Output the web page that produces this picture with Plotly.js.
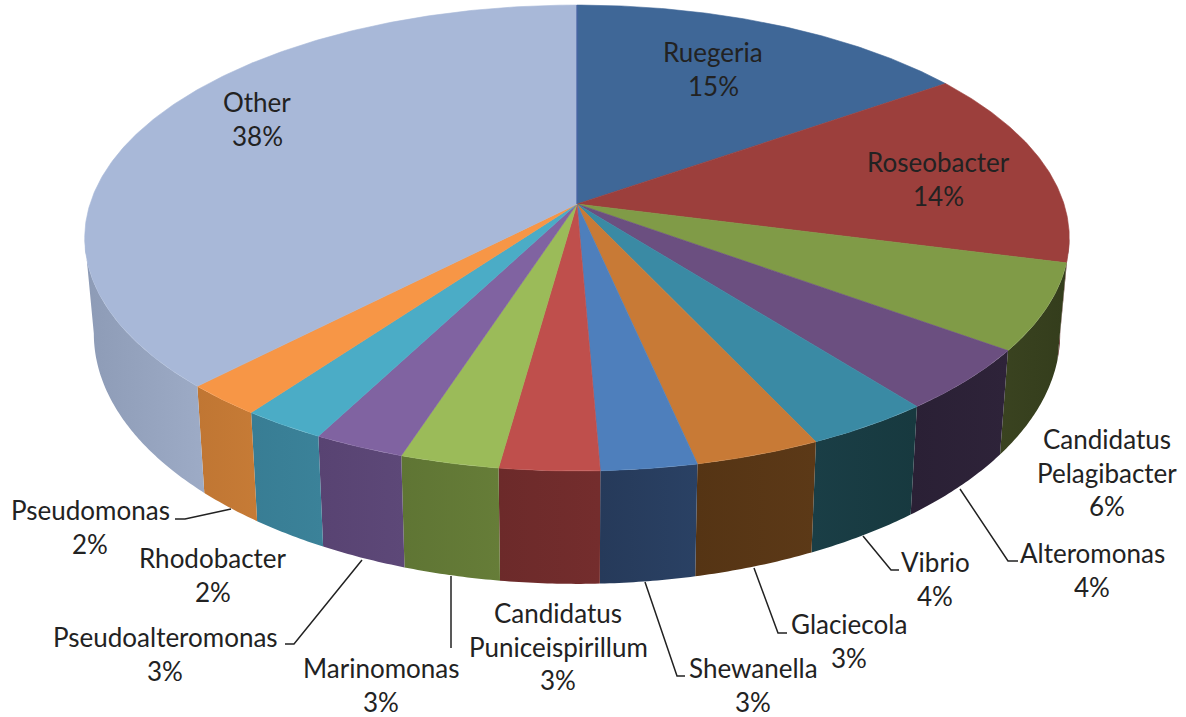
<!DOCTYPE html>
<html>
<head>
<meta charset="utf-8">
<script src="https://cdn.plot.ly/plotly-3.0.1.min.js"></script>
<style>html,body{margin:0;padding:0;background:#fff;overflow:hidden}#chart{width:1186px;height:717px}</style>
</head>
<body>
<div id="chart"></div>
<script>
// Data, clockwise from 12 o'clock. Shown percentages are the rounded labels.
const categories = ["Ruegeria","Roseobacter","Candidatus Pelagibacter","Alteromonas","Vibrio","Glaciecola","Shewanella","Candidatus Puniceispirillum","Marinomonas","Pseudoalteromonas","Rhodobacter","Pseudomonas","Other"];
const values = [15.3,13.7,6,4.4,3.6,3.6,2.75,2.85,2.83,2.62,2.4,2.25,37.7];
const shownPercent = [15,14,6,4,4,3,3,3,3,3,2,2,38];
const labelLines = [["Ruegeria"],["Roseobacter"],["Candidatus","Pelagibacter"],["Alteromonas"],["Vibrio"],["Glaciecola"],["Shewanella"],["Candidatus","Puniceispirillum"],["Marinomonas"],["Pseudoalteromonas"],["Rhodobacter"],["Pseudomonas"],["Other"]];

// Styles
const topColors = ["#3f6797","#9c3f3c","#809b47","#6b4f80","#3a8aa4","#c87a36","#4e7fbc","#bf4f4c","#9bbb59","#8063a1","#4bacc6","#f79646","#a8b8d8"];
const sideColors = [["#2a4566","#2a4566"],["#5a2020","#5a2020"],["#343d1c","#3a4320"],["#2e2339","#2a2035"],["#17393f","#1a3e46"],["#5c3917","#553414"],["#2a4164","#263a5a"],["#742d2d","#6c2a2a"],["#667d38","#5f7534"],["#5d4878","#584372"],["#3b8299","#387d94"],["#c67b36","#c07633"],["#9dabc6","#8d9bb6"]];

// Layout: label centres and leader polylines, in page pixels
const labelCentres = [[713,52],[938,162],[1107,439],[1092,553],[935,562],[849,624],[753,668],[558,613],[381,668],[165,637],[213,558],[90,510],[257,102]];
const lineStep = 33.7;
const leaders = [
 [[175,519],[185,519],[231,509]],
 [[285,644],[294,644],[362,560]],
 [[451,576],[451,648]],
 [[645,582],[677,676],[685,676]],
 [[754,568],[778,633],[787,633]],
 [[863,536],[891,570],[899,570]],
 [[960,489],[1008,561],[1018,561]]
];

// Perspective disc projection for the top and bottom faces
const cx = 577;
const k = 0.146;
const topFace = {a:487, b:228, y0:204};
const botFace = {a:478, b:245, y0:297};
function project(face, deg){
  const t = deg*Math.PI/180, u = Math.sin(t), v = Math.cos(t), w = 1+k*v;
  return [cx + face.a*u/w, face.y0 - face.b*v/w];
}
function arc(face, d0, d1){
  const n = Math.max(2, Math.ceil(Math.abs(d1-d0)/0.5)), pts = [];
  for(let i=0;i<=n;i++) pts.push(project(face, d0+(d1-d0)*i/n));
  return pts;
}

const total = values.reduce((a,b)=>a+b,0);
let acc = 0;
const spans = values.map(v=>{const s=[acc/total*360,(acc+v)/total*360]; acc+=v; return s;});

const traces = [];
// Side wall: only between the two silhouette tangents
const sideMin = 98.4, sideMax = 261.6;
spans.forEach((s,i)=>{
  const a = Math.max(s[0],sideMin), b = Math.min(s[1],sideMax);
  if(b<=a) return;
  const pts = arc(topFace,a,b).concat(arc(botFace,b,a));
  pts.push(pts[0]);
  traces.push({type:"scatter",mode:"none",x:pts.map(p=>p[0]),y:pts.map(p=>p[1]),fill:"toself",
    fillcolor:sideColors[i][0],
    fillgradient:{type:"horizontal",colorscale:[[0,sideColors[i][1]],[1,sideColors[i][0]]]},
    hoverinfo:"skip",showlegend:false});
});
// Top face
spans.forEach((s,i)=>{
  const centre = [cx, topFace.y0];
  const pts = [centre].concat(arc(topFace,s[0],s[1]));
  pts.push(centre);
  traces.push({type:"scatter",mode:"lines",x:pts.map(p=>p[0]),y:pts.map(p=>p[1]),fill:"toself",
    fillcolor:topColors[i],line:{color:topColors[i],width:0.6},
    name:categories[i],text:categories[i]+" "+shownPercent[i]+"%",hoverinfo:"text",showlegend:false});
});
// Thin dark seam at 12 o'clock
const seam = [[cx,topFace.y0],project(topFace,0)];
traces.push({type:"scatter",mode:"lines",x:seam.map(p=>p[0]),y:seam.map(p=>p[1]),line:{color:"#2b4a94",width:1},hoverinfo:"skip",showlegend:false});
// Leader lines
leaders.forEach(l=>traces.push({type:"scatter",mode:"lines",x:l.map(p=>p[0]),y:l.map(p=>p[1]),line:{color:"#222222",width:1.5},hoverinfo:"skip",showlegend:false}));

const annotations = [];
labelLines.forEach((lines,i)=>{
  const all = lines.concat([shownPercent[i]+"%"]);
  all.forEach((t,j)=>annotations.push({x:labelCentres[i][0],y:labelCentres[i][1]+j*lineStep,xref:"x",yref:"y",text:t,showarrow:false,xanchor:"center",yanchor:"middle",font:{family:"Lato, Carlito, sans-serif",size:26,color:"#222222"}}));
});

Plotly.newPlot("chart",traces,{
  width:1186,height:717,margin:{l:0,r:0,t:0,b:0},paper_bgcolor:"#ffffff",plot_bgcolor:"#ffffff",
  xaxis:{range:[0,1186],visible:false,fixedrange:true},
  yaxis:{range:[717,0],visible:false,fixedrange:true},
  showlegend:false,annotations:annotations
},{displayModeBar:false,staticPlot:true});
</script>
</body>
</html>
